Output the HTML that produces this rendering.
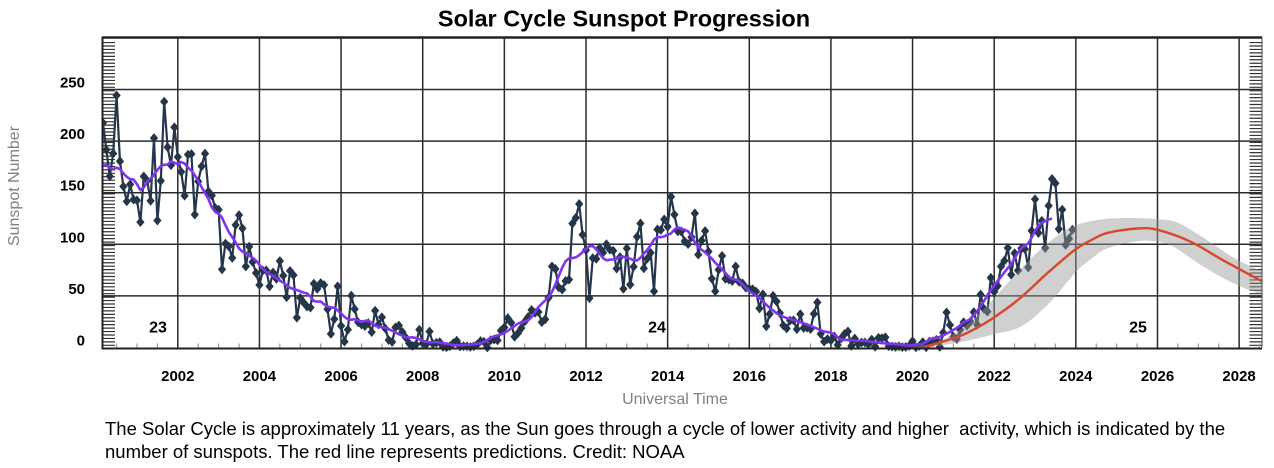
<!DOCTYPE html>
<html><head><meta charset="utf-8">
<style>
html,body{margin:0;padding:0;background:#fff;}
body{width:1274px;height:468px;overflow:hidden;position:relative;font-family:"Liberation Sans",Arial,sans-serif;}
svg{position:absolute;left:0;top:0;}
.cap{position:absolute;left:105px;font-size:18.5px;color:#000;white-space:nowrap;font-family:"Liberation Sans",Arial,sans-serif;}
</style></head><body>
<svg id="s" width="1274" height="468" viewBox="0 0 1274 468" xmlns="http://www.w3.org/2000/svg" font-family="Liberation Sans, Arial, sans-serif">
<defs><clipPath id="clip"><rect x="103.5" y="38" width="1158" height="318"/></clipPath>
<clipPath id="clip2"><rect x="103.5" y="38" width="1158" height="309.5"/></clipPath></defs>
<text x="624" y="26.5" font-size="23.5" font-weight="bold" text-anchor="middle">Solar Cycle Sunspot Progression</text>
<g id="grid"></g>
<g id="ticks"></g>
<g id="data" clip-path="url(#clip)"></g>
<g id="pred" clip-path="url(#clip2)"></g>
<g id="frame"></g>
<g font-size="15" font-weight="bold" text-anchor="end" fill="#000">
<text x="85" y="345.5">0</text>
<text x="85" y="293.9">50</text>
<text x="85" y="242.3">100</text>
<text x="85" y="190.7">150</text>
<text x="85" y="139.1">200</text>
<text x="85" y="87.5">250</text>
</g>
<g font-size="15" font-weight="bold" text-anchor="middle" fill="#000">
<text x="177.8" y="381">2002</text>
<text x="259.4" y="381">2004</text>
<text x="341.1" y="381">2006</text>
<text x="422.7" y="381">2008</text>
<text x="504.4" y="381">2010</text>
<text x="586.0" y="381">2012</text>
<text x="667.7" y="381">2014</text>
<text x="749.3" y="381">2016</text>
<text x="830.9" y="381">2018</text>
<text x="912.6" y="381">2020</text>
<text x="994.2" y="381">2022</text>
<text x="1075.8" y="381">2024</text>
<text x="1157.5" y="381">2026</text>
<text x="1239.1" y="381">2028</text>
</g>
<g font-size="16" font-weight="bold" text-anchor="middle" fill="#000">
<text x="158" y="332.3">23</text>
<text x="657" y="332.3">24</text>
<text x="1138" y="332.3">25</text>
</g>
<text x="675" y="404" font-size="16" fill="#808080" text-anchor="middle">Universal Time</text>
<text x="0" y="0" font-size="16" fill="#808080" text-anchor="middle" transform="translate(19,186) rotate(-90)">Sunspot Number</text>
</svg>
<div class="cap" style="top:418px;">The Solar Cycle is approximately 11 years, as the Sun goes through a cycle of lower activity and higher&nbsp; activity, which is indicated by the</div>
<div class="cap" style="top:441px;">number of sunspots. The red line represents predictions. Credit: NOAA</div>
<script>
(function(){
var NS="http://www.w3.org/2000/svg";
function X(t){return 177.8+(t-2002)*40.82;}
function Y(v){return 347.5-v*1.032;}
function el(tag,attrs,parent){var e=document.createElementNS(NS,tag);for(var k in attrs)e.setAttribute(k,attrs[k]);parent.appendChild(e);return e;}
var grid=document.getElementById('grid'),ticks=document.getElementById('ticks'),data=document.getElementById('data'),pred=document.getElementById('pred'),frame=document.getElementById('frame');
var L=102.5,R=1262,T=37.5,B=347.5;
var td="";
for(var y=B-2.2;y>T+2;y-=3.44){td+="M"+L+" "+y.toFixed(2)+"H"+(L+12.5)+"M"+(R-12.5)+" "+y.toFixed(2)+"H"+R;}
el('path',{d:td,stroke:'#333',"stroke-width":1.2,fill:'none'},ticks);
var bd="";
for(var t=2000.5;t<2028.6;t+=0.5){if(Math.abs(t-Math.round(t/2)*2)<0.01)continue;var x=X(t);if(x<L+3||x>R-2)continue;bd+="M"+x.toFixed(2)+" "+B+"V"+(B-4);}
el('path',{d:bd,stroke:'#999',"stroke-width":1.2,fill:'none'},ticks);
var gd="";
for(var yr=2002;yr<=2028;yr+=2){var x=X(yr);gd+="M"+x.toFixed(2)+" "+T+"V"+B;}
for(var v=50;v<=250;v+=50){var y=Y(v);gd+="M"+L+" "+y.toFixed(2)+"H"+R;}
el('path',{d:gd,stroke:'#2a2a2a',"stroke-width":1.5,fill:'none'},grid);
el('path',{d:"M"+L+" "+T+"H"+R,stroke:'#222',"stroke-width":2.5,fill:'none'},frame);
el('path',{d:"M"+L+" "+(T-1)+"V"+(B+1)+"H"+R,stroke:'#222',"stroke-width":2,fill:'none'},frame);
el('path',{d:"M"+R+" "+T+"V"+B,stroke:'#444',"stroke-width":1,fill:'none'},frame);
var a=[92,98,102,94,157,204,168,139,106,173,197,125,
133.1,165.7,217.7,191.5,165.9,188.0,244.3,180.5,156.0,141.6,158.1,143.3,
142.6,121.5,165.8,161.7,142.1,202.9,123.0,161.5,238.2,194.1,176.6,213.4,
184.6,170.2,147.1,186.9,187.5,128.8,161.0,175.6,187.9,151.2,147.2,135.3,
133.5,75.7,100.7,97.9,86.8,118.7,128.3,115.4,78.5,97.8,82.9,72.2,
60.6,74.6,74.8,59.2,72.8,66.5,83.8,69.7,48.8,74.2,70.1,28.9,
48.1,43.5,39.6,38.7,61.9,56.8,62.4,60.5,37.2,13.2,27.5,59.3,
20.9,5.7,17.3,50.3,37.2,24.5,22.2,20.8,23.7,14.9,35.7,22.3,
29.3,18.4,7.2,5.4,19.5,21.3,15.1,9.8,4.0,1.5,2.8,17.3,
4.1,2.9,15.5,3.6,4.6,5.2,0.6,0.3,1.2,4.2,6.6,1.0,
1.3,1.2,0.6,1.2,2.9,6.3,5.5,0.0,7.1,7.7,6.9,16.3,
19.5,28.5,24.0,10.4,13.9,18.8,25.2,29.6,36.4,33.6,34.4,24.5,
27.3,48.3,78.6,76.1,58.2,56.1,64.5,65.8,120.1,125.7,139.1,109.3,
94.4,47.8,86.6,85.9,96.5,92.0,100.1,94.8,93.7,76.5,87.6,56.8,
96.1,60.9,78.3,107.3,120.2,76.7,86.2,91.8,54.5,114.4,113.9,124.2,
117.0,146.1,128.7,112.5,112.5,102.9,100.2,106.9,130.0,90.0,103.6,112.9,
93.0,66.7,54.5,75.3,88.8,66.5,65.8,64.4,78.6,63.6,62.2,58.0,
57.0,56.4,54.1,37.9,51.5,20.5,32.4,50.2,44.6,33.4,21.4,18.5,
26.1,26.4,17.7,32.3,18.9,19.2,17.8,32.6,43.7,13.2,5.7,8.2,
6.8,10.7,2.5,8.9,13.1,15.6,1.6,8.7,3.3,4.9,4.9,3.1,
7.7,0.8,9.4,9.1,9.9,1.2,0.9,0.5,1.1,0.4,0.5,1.5,
6.2,0.2,1.5,5.2,0.2,5.8,6.1,7.5,0.6,14.4,34.0,21.8,
10.4,8.2,17.2,24.5,21.2,25.0,34.3,22.0,51.3,37.4,34.8,67.5,
54.0,59.7,78.5,84.1,96.5,70.5,91.4,74.6,96.0,95.5,77.6,113.1,
143.6,110.9,122.8,96.4,137.4,163.4,159.1,114.8,133.6,99.4,105.4,114.2];
var n=a.length;
function tx(i){return 1999+i/12;}
var ld="",md="";
for(var i=0;i<n;i++){var x=X(tx(i)),y=Y(a[i]);ld+=(i?"L":"M")+x.toFixed(2)+" "+y.toFixed(2);
md+="M"+x.toFixed(2)+" "+(y-4.3).toFixed(2)+"l3.6 4.3l-3.6 4.3l-3.6 -4.3Z";}
el('path',{d:ld,stroke:'#25364a',"stroke-width":2.2,fill:'none',"stroke-linejoin":'round'},data);
el('path',{d:md,fill:'#25364a',stroke:'#25364a',"stroke-width":0.8},data);
var sd="";
for(var i=6;i<n-6;i++){var s=0.5*a[i-6]+0.5*a[i+6];for(var j=i-5;j<=i+5;j++)s+=a[j];s/=12;
sd+=(i>6?"L":"M")+X(tx(i)).toFixed(2)+" "+Y(s).toFixed(2);}
function P(arr){return arr.map(function(p){return [X(p[0]),Y(p[1])];});}
function cr(pts,start){var d=start?"M"+pts[0][0].toFixed(2)+" "+pts[0][1].toFixed(2):"L"+pts[0][0].toFixed(2)+" "+pts[0][1].toFixed(2);
for(var i=0;i<pts.length-1;i++){var p0=pts[Math.max(i-1,0)],p1=pts[i],p2=pts[i+1],p3=pts[Math.min(i+2,pts.length-1)];
var c1=[p1[0]+(p2[0]-p0[0])/6,p1[1]+(p2[1]-p0[1])/6],c2=[p2[0]-(p3[0]-p1[0])/6,p2[1]-(p3[1]-p1[1])/6];
d+="C"+c1[0].toFixed(2)+" "+c1[1].toFixed(2)+" "+c2[0].toFixed(2)+" "+c2[1].toFixed(2)+" "+p2[0].toFixed(2)+" "+p2[1].toFixed(2);}
return d;}
var up=P([[2019.9,0],[2020.5,4],[2021.0,13],[2021.5,28],[2022.0,48],[2022.5,70],[2023.0,90],[2023.5,107],[2024.0,118.5],[2024.7,124.5],[2025.4,125.5],[2026.1,124],[2026.5,121],[2027.06,108],[2027.87,87],[2028.58,73.5],[2028.9,68]]);
var lo=P([[2020.4,0],[2021.0,4],[2021.5,8],[2022.0,13],[2022.64,20],[2023.3,41],[2024.0,73],[2024.35,85],[2024.77,96],[2025.5,103],[2026.0,102.5],[2026.4,97.5],[2027.06,80],[2027.87,62],[2028.58,51],[2028.9,47]]);
var bandD=cr(up,true)+cr(lo.slice().reverse(),false)+"Z";
el('path',{d:bandD,fill:'rgba(150,150,150,0.45)',stroke:'none'},pred);
el('path',{d:sd,stroke:'#8033f0',"stroke-width":2.6,fill:'none',"stroke-linejoin":'round'},data);
var red=P([[2020.3,0.5],[2021.09,10],[2021.5,17.5],[2021.99,29],[2022.64,48],[2023.3,72],[2023.99,95],[2024.35,103.5],[2024.77,111],[2025.5,115.3],[2026.0,114],[2026.81,102.5],[2027.63,84],[2028.58,63.8],[2028.9,57]]);
el('path',{d:cr(red,true),stroke:'#d9472b',"stroke-width":2.4,fill:'none'},pred);
})();
</script>
</body></html>
